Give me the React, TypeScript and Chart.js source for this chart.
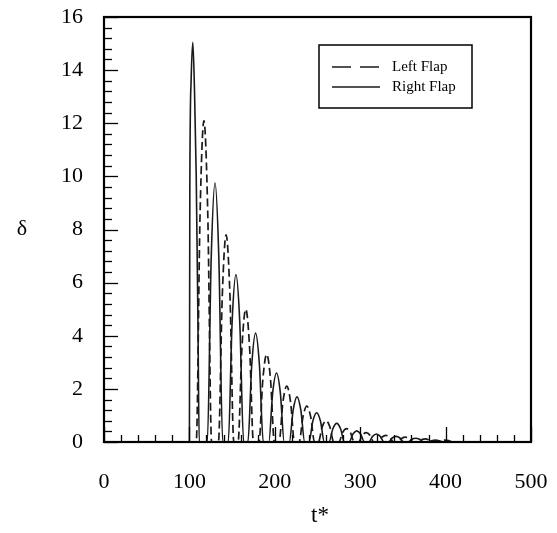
import { useEffect, useRef } from 'react';
import { Chart, registerables } from 'chart.js';

Chart.register(...registerables);

const SERIF = '"Liberation Serif", "Times New Roman", serif';

// Right flap (solid) time stamps and deflection values
const tRight = [
  0, 100, 100.5, 102, 104, 106, 108, 110, 111.5,
  121, 125.5, 130, 134.5, 139,
  145.5, 150, 154.5, 159, 163.5,
  168.5, 173, 177.5, 182, 186.5,
  193, 197.5, 202, 206.5, 211,
  217, 221.5, 226, 230.5, 235,
  240, 244.5, 249, 253.5, 258,
  263.5, 268, 272.5, 277, 281.5,
  287, 291.5, 296, 300.5, 305,
  310, 314.5, 319, 323.5, 328,
  333, 337.5, 342, 346.5, 351,
  356, 360.5, 365, 369.5, 374,
  379, 383.5, 388, 392.5, 397,
  500,
];
const deltaRight = [
  0, 0, 9.5, 13.6, 15.05, 13.2, 10, 4.5, 0,
  0, 6.9, 9.75, 6.9, 0,
  0, 4.5, 6.3, 4.5, 0,
  0, 2.9, 4.1, 2.9, 0,
  0, 1.85, 2.6, 1.85, 0,
  0, 1.2, 1.7, 1.2, 0,
  0, 0.78, 1.1, 0.78, 0,
  0, 0.5, 0.7, 0.5, 0,
  0, 0.3, 0.42, 0.3, 0,
  0, 0.21, 0.3, 0.21, 0,
  0, 0.15, 0.21, 0.15, 0,
  0, 0.1, 0.14, 0.1, 0,
  0, 0.05, 0.07, 0.05, 0,
  0,
];

// Left flap (dashed)
const tLeft = [
  0, 108, 112.5, 117, 121.5, 126,
  134, 138.5, 143, 147.5, 152,
  157, 161.5, 166, 170.5, 175,
  181.5, 186, 190.5, 195, 199.5,
  205, 209.5, 214, 218.5, 223,
  228.5, 233, 237.5, 242, 246.5,
  251, 255.5, 260, 264.5, 269,
  275, 279.5, 284, 288.5, 293,
  298, 302.5, 307, 311.5, 316,
  321, 325.5, 330, 334.5, 339,
  344, 348.5, 353, 357.5, 362,
  367, 371.5, 376, 380.5, 385,
  390, 394.5, 399, 403.5, 408,
  500,
];
const deltaLeft = [
  0, 0, 8.6, 12.1, 8.6, 0,
  0, 5.5, 7.8, 5.5, 0,
  0, 3.55, 5.0, 3.55, 0,
  0, 2.35, 3.3, 2.35, 0,
  0, 1.5, 2.1, 1.5, 0,
  0, 0.95, 1.35, 0.95, 0,
  0, 0.57, 0.8, 0.57, 0,
  0, 0.36, 0.5, 0.36, 0,
  0, 0.25, 0.35, 0.25, 0,
  0, 0.18, 0.25, 0.18, 0,
  0, 0.13, 0.18, 0.13, 0,
  0, 0.08, 0.12, 0.08, 0,
  0, 0.05, 0.07, 0.05, 0,
  0,
];

const seriesNames = ['Left Flap', 'Right Flap'];
const xTitle = 't*';
const yTitle = 'δ';

const decorPlugin = {
  id: 'decor',
  afterDatasetsDraw(chart: any) {
    const { ctx, chartArea: a, scales } = chart;
    const xs = scales.x;
    const ys = scales.y;
    ctx.save();
    ctx.strokeStyle = '#000';
    ctx.lineWidth = 1.3;
    for (let i = 0; i <= 40; i++) {
      const v = i * 0.4;
      const py = Math.round(ys.getPixelForValue(v)) + 0.5;
      const len = i % 5 === 0 ? 14 : 8;
      ctx.beginPath();
      ctx.moveTo(a.left, py);
      ctx.lineTo(a.left + len, py);
      ctx.stroke();
    }
    for (let i = 0; i <= 25; i++) {
      const v = i * 20;
      const px = Math.round(xs.getPixelForValue(v)) + 0.5;
      const len = i % 5 === 0 ? 15 : 7;
      ctx.beginPath();
      ctx.moveTo(px, a.bottom);
      ctx.lineTo(px, a.bottom - len);
      ctx.stroke();
    }
    ctx.lineWidth = 2.2;
    ctx.strokeRect(a.left, a.top, a.right - a.left, a.bottom - a.top);

    ctx.fillStyle = '#000';
    ctx.font = `22px ${SERIF}`;
    ctx.textAlign = 'center';
    ctx.textBaseline = 'middle';
    ctx.fillText(yTitle, 22, (a.top + a.bottom) / 2);
    ctx.font = `23px ${SERIF}`;
    ctx.fillText(xTitle, 320, 516);

    const bx = 319;
    const by = 45;
    const bw = 153;
    const bh = 63;
    ctx.lineWidth = 1.5;
    ctx.strokeRect(bx, by, bw, bh);
    const dsets = chart.data.datasets;
    ctx.font = `15px ${SERIF}`;
    ctx.textAlign = 'left';
    dsets.forEach((ds: any, i: number) => {
      const ly = by + 22 + i * 20;
      ctx.beginPath();
      ctx.lineWidth = 1.3;
      ctx.strokeStyle = ds.borderColor;
      ctx.setLineDash(ds.borderDash && ds.borderDash.length ? [19, 9] : []);
      ctx.moveTo(bx + 13, ly);
      ctx.lineTo(bx + 61, ly);
      ctx.stroke();
      ctx.setLineDash([]);
      ctx.fillStyle = '#000';
      ctx.fillText(ds.label, bx + 73, ly);
    });
    ctx.restore();
  },
};

const zeroPad = (s: any) => {
  s.paddingTop = 0;
  s.paddingBottom = 0;
  s.paddingLeft = 0;
  s.paddingRight = 0;
};

export default function App() {
  const ref = useRef<HTMLCanvasElement>(null);
  useEffect(() => {
    const chart = new Chart(ref.current as HTMLCanvasElement, {
      type: 'line',
      data: {
        datasets: [
          {
            label: seriesNames[0],
            data: tLeft.map((t, i) => ({ x: t, y: deltaLeft[i] })),
            borderColor: '#1a1a1a',
            borderWidth: 1.7,
            borderDash: [8, 4],
            pointRadius: 0,
            cubicInterpolationMode: 'monotone',
            fill: false,
          },
          {
            label: seriesNames[1],
            data: tRight.map((t, i) => ({ x: t, y: deltaRight[i] })),
            borderColor: '#1a1a1a',
            borderWidth: 1.6,
            pointRadius: 0,
            cubicInterpolationMode: 'monotone',
            fill: false,
          },
        ],
      },
      options: {
        animation: false,
        responsive: true,
        maintainAspectRatio: false,
        layout: { padding: { top: 17, right: 26, left: 0, bottom: 0 } },
        plugins: { legend: { display: false }, tooltip: { enabled: false } },
        scales: {
          x: {
            type: 'linear',
            min: 0,
            max: 500,
            grid: { display: false, drawTicks: false },
            border: { display: false },
            ticks: {
              stepSize: 100,
              padding: 27,
              color: '#000',
              font: { family: SERIF, size: 22 },
              maxRotation: 0,
            },
            afterFit: (s: any) => {
              s.height = 91;
              zeroPad(s);
            },
          },
          y: {
            min: 0,
            max: 16,
            grid: { display: false, drawTicks: false },
            border: { display: false },
            ticks: {
              stepSize: 2,
              padding: 21,
              color: '#000',
              font: { family: SERIF, size: 22 },
            },
            afterFit: (s: any) => {
              s.width = 104;
              zeroPad(s);
            },
          },
        },
      },
      plugins: [decorPlugin],
    } as any);
    return () => chart.destroy();
  }, []);
  return (
    <div style={{ position: 'absolute', left: 0, top: 0, width: 557, height: 533, background: '#fff' }}>
      <canvas ref={ref} />
    </div>
  );
}
